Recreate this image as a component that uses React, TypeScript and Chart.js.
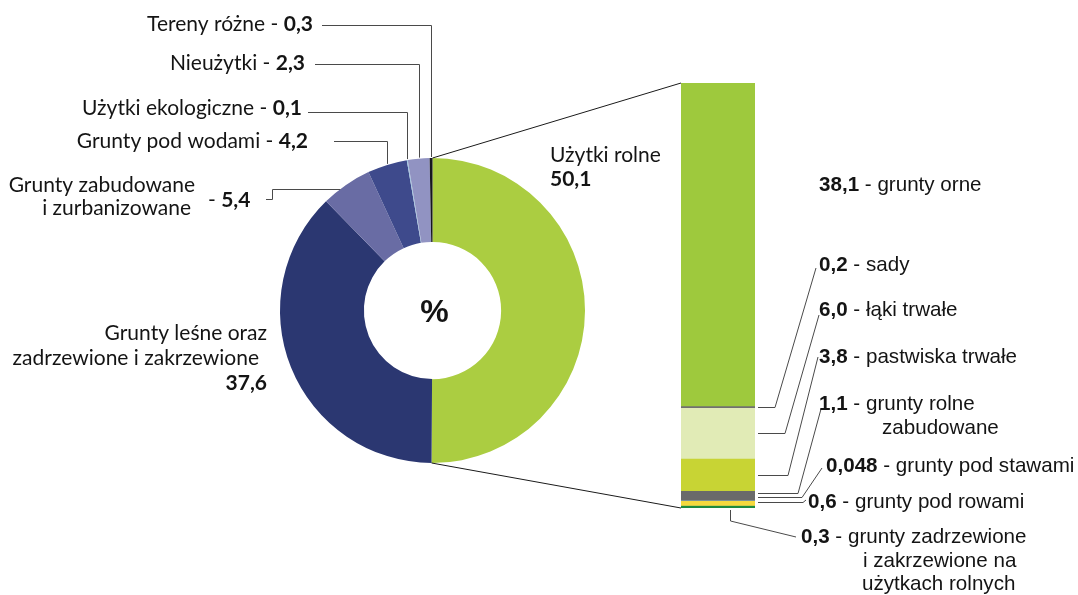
import React, { useEffect, useRef } from 'react';
import { Chart, registerables } from 'chart.js';

Chart.register(...registerables);

// ---------- DATA ----------
const landLabels = [
  'Użytki rolne',
  'Grunty leśne oraz\nzadrzewione i zakrzewione',
  'Grunty zabudowane\ni zurbanizowane',
  'Grunty pod wodami',
  'Użytki ekologiczne',
  'Nieużytki',
  'Tereny różne',
];
const landValues = [50.1, 37.6, 5.4, 4.2, 0.1, 2.3, 0.3];
const landValueText = ['50,1', '37,6', '5,4', '4,2', '0,1', '2,3', '0,3'];
const landColors = ['#abcd41', '#2b3771', '#696ca4', '#3e4a8c', '#9cc6df', '#9193c2', '#17171f'];

const agriLabels = [
  'grunty orne',
  'sady',
  'łąki trwałe',
  'pastwiska trwałe',
  'grunty rolne\nzabudowane',
  'grunty pod stawami',
  'grunty pod rowami',
  'grunty zadrzewione\ni zakrzewione na\nużytkach rolnych',
];
const agriValues = [38.1, 0.2, 6.0, 3.8, 1.1, 0.048, 0.6, 0.3];
const agriValueText = ['38,1', '0,2', '6,0', '3,8', '1,1', '0,048', '0,6', '0,3'];
const agriColors = ['#9ec93d', '#707070', '#e1ebb6', '#c8d434', '#6a6a6a', '#5b8fc9', '#f6d93d', '#1f8a3e'];

const centerText = '%';

// ---------- STYLE / LAYOUT ----------
const FONT_L = 'Lato, "Open Sans", sans-serif';
const FONT_R = '"Liberation Sans", Arial, sans-serif';
const TEXT = '#141414';
const LEADER = '#4a4a4a';
const SIZE_L = 21;
const SIZE_R = 20.6;

type Run = { text: string; bold?: boolean };

function drawRuns(
  ctx: CanvasRenderingContext2D,
  runs: Run[],
  x: number,
  y: number,
  align: 'left' | 'right',
  family: string,
  size: number
) {
  const widths = runs.map((r) => {
    ctx.font = `${r.bold ? 'bold ' : ''}${size}px ${family}`;
    return ctx.measureText(r.text).width;
  });
  const total = widths.reduce((a, b) => a + b, 0);
  let cx = align === 'right' ? x - total : x;
  ctx.textAlign = 'left';
  ctx.textBaseline = 'alphabetic';
  ctx.fillStyle = TEXT;
  runs.forEach((r, i) => {
    ctx.font = `${r.bold ? 'bold ' : ''}${size}px ${family}`;
    ctx.fillText(r.text, cx, y);
    cx += widths[i];
  });
}

function polyline(ctx: CanvasRenderingContext2D, pts: number[][], color = LEADER, width = 1) {
  ctx.save();
  ctx.strokeStyle = color;
  ctx.lineWidth = width;
  ctx.beginPath();
  pts.forEach((p, i) => (i === 0 ? ctx.moveTo(p[0], p[1]) : ctx.lineTo(p[0], p[1])));
  ctx.stroke();
  ctx.restore();
}

// top-left labels with vertical leaders to the ring
const leftTopLayout = [
  { index: 6, right: 313, baseline: 31, lineY: 25, lineStartX: 322 },
  { index: 5, right: 305, baseline: 70, lineY: 64, lineStartX: 315 },
  { index: 4, right: 302, baseline: 115, lineY: 112, lineStartX: 308 },
  { index: 3, right: 308, baseline: 148, lineY: 141, lineStartX: 334 },
];

const donutLabelsPlugin = {
  id: 'donutLabels',
  afterDraw(chart: any) {
    const ctx: CanvasRenderingContext2D = chart.ctx;
    const meta = chart.getDatasetMeta(0);
    const arc = (i: number) =>
      meta.data[i].getProps(['x', 'y', 'startAngle', 'endAngle', 'outerRadius', 'innerRadius'], true);
    const a0 = arc(0);
    const cx = a0.x;
    const cy = a0.y;
    const R = a0.outerRadius;
    ctx.save();

    // vertical leaders
    leftTopLayout.forEach((l) => {
      const a = arc(l.index);
      const mid = (a.startAngle + a.endAngle) / 2;
      const px = a.x + Math.cos(mid) * a.outerRadius;
      const py = a.y + Math.sin(mid) * a.outerRadius;
      polyline(ctx, [
        [l.lineStartX, l.lineY + 0.5],
        [Math.round(px) + 0.5, l.lineY + 0.5],
        [Math.round(px) + 0.5, py - 1],
      ]);
      drawRuns(
        ctx,
        [{ text: `${landLabels[l.index]} - ` }, { text: landValueText[l.index], bold: true }],
        l.right,
        l.baseline,
        'right',
        FONT_L,
        SIZE_L
      );
    });

    // Grunty zabudowane i zurbanizowane
    {
      const lines = landLabels[2].split('\n');
      const rights = [195, 191];
      const bases = [192, 215];
      lines.forEach((t, i) => drawRuns(ctx, [{ text: t }], rights[i], bases[i], 'right', FONT_L, SIZE_L));
      drawRuns(ctx, [{ text: '- ' }, { text: landValueText[2], bold: true }], 208, 207, 'left', FONT_L, SIZE_L);
      const ly = 189;
      const ix = cx - Math.sqrt(R * R - (cy - ly) * (cy - ly));
      polyline(ctx, [
        [266, 199.5],
        [272.5, 199.5],
        [272.5, ly + 0.5],
        [ix, ly + 0.5],
      ]);
    }

    // Grunty leśne
    {
      const lines = landLabels[1].split('\n');
      drawRuns(ctx, [{ text: lines[0] }], 267, 340, 'right', FONT_L, SIZE_L);
      drawRuns(ctx, [{ text: lines[1] }], 259, 365, 'right', FONT_L, SIZE_L);
      drawRuns(ctx, [{ text: landValueText[1], bold: true }], 267, 390, 'right', FONT_L, SIZE_L);
    }

    // Użytki rolne
    drawRuns(ctx, [{ text: landLabels[0] }], 550, 162, 'left', FONT_L, SIZE_L);
    drawRuns(ctx, [{ text: landValueText[0], bold: true }], 550, 186, 'left', FONT_L, SIZE_L);

    // centre %
    ctx.font = `bold 32px ${FONT_R}`;
    ctx.fillStyle = TEXT;
    ctx.textAlign = 'center';
    ctx.textBaseline = 'middle';
    ctx.fillText(centerText, cx + 2, cy + 3);
    ctx.restore();
  },
};

// right labels
const agriLayout = [
  { x: 819, baseline: 191, subX: [] as number[], gap: 0 },
  { x: 819, baseline: 271, subX: [], gap: 0 },
  { x: 819, baseline: 316, subX: [], gap: 0 },
  { x: 819, baseline: 363, subX: [], gap: 0 },
  { x: 819, baseline: 410, subX: [882], gap: 24 },
  { x: 826, baseline: 472, subX: [], gap: 0 },
  { x: 808, baseline: 508, subX: [], gap: 0 },
  { x: 801, baseline: 543, subX: [863, 862], gap: 23.5 },
];

// leader lines: horizontal from bar right edge to elbow, then diagonal to label
const agriLeaders: any[] = [
  null,
  { elbowX: 775, endX: 816, endY: 268, dy: 0 },
  { elbowX: 785, endX: 819, endY: 315, dy: 0 },
  { elbowX: 788, endX: 818, endY: 357, dy: 0 },
  { elbowX: 798, endX: 821, endY: 409, dy: -2 },
  { elbowX: 802, endX: 822, endY: 468, dy: -3 },
  { elbowX: 803, endX: 806, endY: 500, dy: -1 },
  { down: true, offX: 49, downY: 521, endX: 796, endY: 537 },
];

function makeBarPlugin(donut: Chart) {
  return {
    id: 'barLabels',
    afterDraw(chart: any) {
      const ctx: CanvasRenderingContext2D = chart.ctx;
      ctx.save();
      const els = agriValues.map((_, i) =>
        chart.getDatasetMeta(i).data[0].getProps(['x', 'y', 'base', 'width'], true)
      );
      const top = (e: any) => Math.min(e.y, e.base);
      const bot = (e: any) => Math.max(e.y, e.base);
      const left = els[0].x - els[0].width / 2;
      const right = els[0].x + els[0].width / 2;

      // connectors from doughnut to bar
      const dm = donut.getDatasetMeta(0);
      const a0: any = (dm.data[0] as any).getProps(['x', 'y', 'startAngle', 'endAngle', 'outerRadius'], true);
      const tx = a0.x + Math.cos(a0.startAngle) * a0.outerRadius;
      const ty = a0.y + Math.sin(a0.startAngle) * a0.outerRadius;
      const bx = a0.x + Math.cos(a0.endAngle) * a0.outerRadius;
      const by = a0.y + Math.sin(a0.endAngle) * a0.outerRadius;
      polyline(ctx, [[tx, ty], [left, top(els[0])]], '#1a1a1a', 1);
      polyline(ctx, [[bx, by], [left, bot(els[els.length - 1])]], '#1a1a1a', 1);

      // leaders
      agriLeaders.forEach((l, i) => {
        if (!l) return;
        const e = els[i];
        if (l.down) {
          const x = Math.round(left + l.offX) + 0.5;
          polyline(ctx, [
            [x, bot(e) + 2],
            [x, l.downY],
            [l.endX, l.endY],
          ]);
        } else {
          const yy = Math.round((top(e) + bot(e)) / 2 + l.dy) + 0.5;
          polyline(ctx, [
            [right + 3, yy],
            [l.elbowX, yy],
            [l.endX, l.endY],
          ]);
        }
      });

      // texts
      agriLayout.forEach((l, i) => {
        const lines = agriLabels[i].split('\n');
        drawRuns(
          ctx,
          [{ text: agriValueText[i], bold: true }, { text: ' - ' + lines[0] }],
          l.x,
          l.baseline,
          'left',
          FONT_R,
          SIZE_R
        );
        lines.slice(1).forEach((t, k) => {
          drawRuns(ctx, [{ text: t }], l.subX[k], l.baseline + l.gap * (k + 1), 'left', FONT_R, SIZE_R);
        });
      });
      ctx.restore();
    },
  };
}

export default function App() {
  const donutRef = useRef<HTMLCanvasElement>(null);
  const barRef = useRef<HTMLCanvasElement>(null);

  useEffect(() => {
    const donut = new Chart(donutRef.current as HTMLCanvasElement, {
      type: 'doughnut',
      data: {
        labels: landLabels,
        datasets: [
          {
            data: landValues,
            backgroundColor: landColors,
            borderWidth: 0,
          },
        ],
      },
      options: {
        responsive: false,
        animation: false,
        events: [],
        cutout: '45%',
        layout: { padding: { left: 280, right: 493, top: 158, bottom: 132 } },
        plugins: { legend: { display: false }, tooltip: { enabled: false } },
      },
      plugins: [donutLabelsPlugin],
    } as any);

    const total = agriValues.reduce((a, b) => a + b, 0);
    const bar = new Chart(barRef.current as HTMLCanvasElement, {
      type: 'bar',
      data: {
        labels: ['Użytki rolne'],
        datasets: agriValues.map((v, i) => ({
          label: agriLabels[i],
          data: [v],
          backgroundColor: agriColors[i],
          borderWidth: 0,
          barPercentage: 1,
          categoryPercentage: 1,
          stack: 'rolne',
        })),
      },
      options: {
        responsive: false,
        animation: false,
        events: [],
        layout: { padding: { left: 681, right: 323, top: 83, bottom: 87 } },
        scales: {
          x: { display: false, stacked: true },
          y: { display: false, stacked: true, min: 0, max: total, reverse: true },
        },
        plugins: { legend: { display: false }, tooltip: { enabled: false } },
      },
      plugins: [makeBarPlugin(donut)],
    } as any);

    return () => {
      bar.destroy();
      donut.destroy();
    };
  }, []);

  const cstyle: React.CSSProperties = { position: 'absolute', left: 0, top: 0, width: 1078, height: 595 };
  return (
    <div style={{ position: 'absolute', left: 0, top: 0, width: 1078, height: 595, background: '#fff', overflow: 'hidden' }}>
      <canvas ref={donutRef} width={1078} height={595} style={cstyle} />
      <canvas ref={barRef} width={1078} height={595} style={cstyle} />
    </div>
  );
}
